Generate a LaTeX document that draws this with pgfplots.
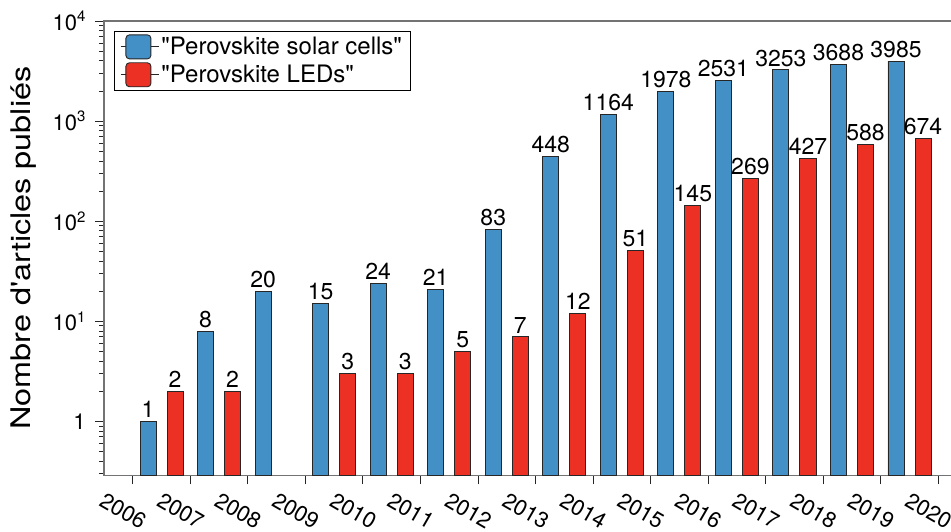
\documentclass[border=0pt]{standalone}
\usepackage{pgfplots}
\pgfplotsset{compat=1.18}
\usepackage{fontspec}
\setmainfont{TeX Gyre Heros}
\usetikzlibrary{calc}
\definecolor{solar}{RGB}{67,144,198}
\definecolor{led}{RGB}{236,49,36}
\pgfplotsset{rbox legend/.style={legend image code/.code={\path (-5pt,0pt) -- (33pt,0pt);
    \draw[##1, rounded corners=3.5pt] (0pt,-12pt) rectangle (25pt,12pt);}}}
\newcommand{\sexpo}[1]{10\raisebox{0.75ex}{\fontsize{15}{15}\selectfont #1}}
\begin{document}
\begin{tikzpicture}
\begin{axis}[
    scale only axis,
    width=847pt, height=454pt,
    xmin=-0.5, xmax=14.23,
    ymode=log, ymin=0.29, ymax=10000,
    log origin=infty,
    xtick={0,...,14},
    xticklabels={2006,2007,2008,2009,2010,2011,2012,2013,2014,2015,2016,2017,2018,2019,2020},
    ytick={1,10,100,1000,10000},
    yticklabels={1,\sexpo{1},\sexpo{2},\sexpo{3},\sexpo{4}},
    minor ytick={0.3,0.4,0.5,0.6,0.7,0.8,0.9,2,3,4,5,6,7,8,9,20,30,40,50,60,70,80,90,200,300,400,500,600,700,800,900,2000,3000,4000,5000,6000,7000,8000,9000},
    tick align=outside,
    xtick pos=bottom, ytick pos=left,
    major tick length=9pt, minor tick length=5pt,
    every tick/.style={black!85, line width=0.9pt},
    axis line style={black!55, line width=1.2pt},
    tick label style={font=\fontsize{22}{22}\selectfont},
    xticklabel style={rotate=-30, anchor=center, xshift=5pt, yshift=-28pt},
    yticklabel style={xshift=-6pt},
    ylabel={\scalebox{1.2}[1]{Nombre d\textquotesingle articles publiés}},
    every axis y label/.style={at={(rel axis cs:0,0.5)}, rotate=90, anchor=center, yshift=80pt, font=\fontsize{27}{27}\selectfont},
    /pgf/number format/.cd, fixed, precision=0, 1000 sep={}, assume math mode=true, /pgfplots/.cd,
    nodes near coords, point meta=rawy,
    nodes near coords style={font=\fontsize{23}{23}\selectfont, inner sep=3pt, black},
    legend style={at={(0,1)}, anchor=north west, xshift=10pt, yshift=-10pt, draw=black, line width=0.8pt,
        font=\fontsize{24}{24}\selectfont, inner xsep=6pt, inner ysep=3pt, row sep=3pt},
    legend cell align=left,
]
\addplot[ybar, bar width=16pt, bar shift=-13.5pt, fill=solar, draw=black!85, line width=0.9pt, rbox legend,
    nodes near coords style={xshift=-13.5pt}]
coordinates {
    (0.5,1) (1.5,8) (2.5,20) (3.5,15) (4.5,24) (5.5,21) (6.5,83)
    (7.5,448) (8.5,1164) (9.5,1978) (10.5,2531) (11.5,3253) (12.5,3688) (13.5,3985)
};
\addplot[ybar, bar width=16pt, bar shift=13.5pt, fill=led, draw=black!85, line width=0.9pt, rbox legend,
    nodes near coords style={xshift=13.5pt}]
coordinates {
    (0.5,2) (1.5,2) (3.5,3) (4.5,3) (5.5,5) (6.5,7)
    (7.5,12) (8.5,51) (9.5,145) (10.5,269) (11.5,427) (12.5,588) (13.5,674)
};
\legend{\textquotedbl Perovskite solar cells\textquotedbl\hspace{12pt},\textquotedbl Perovskite LEDs\textquotedbl}
\end{axis}
\pgfresetboundingbox
\path[use as bounding box] ($(current axis.south west)+(-104pt,-56pt)$) rectangle ($(current axis.north east)+(-0.5pt,21pt)$);
\end{tikzpicture}
\end{document}
